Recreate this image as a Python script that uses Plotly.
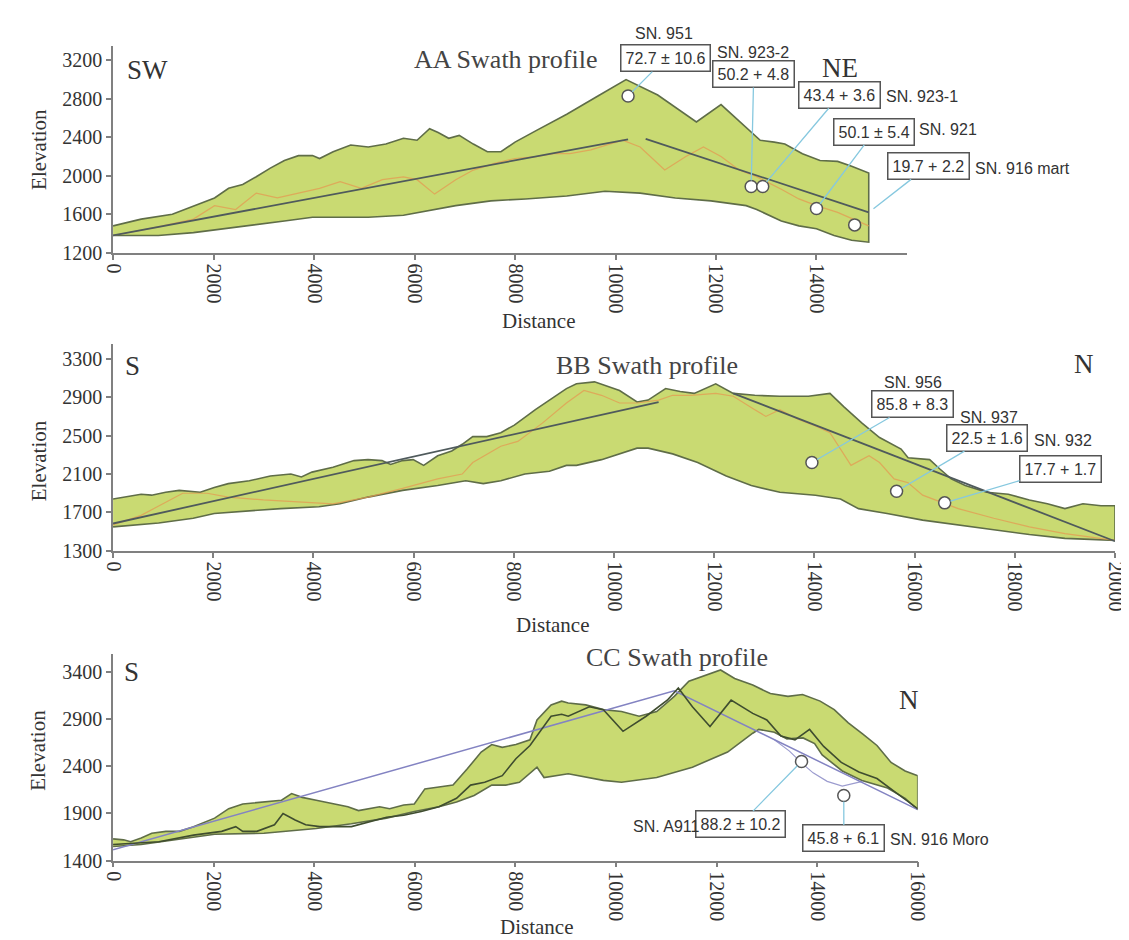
import plotly.graph_objects as go

W, H = 1129, 940

# ---------------- Panel AA ----------------
A_up_x = [0, 560, 1180, 1530, 1740, 2020, 2300, 2580, 2850, 3130, 3410, 3690, 3970, 4110, 4380, 4730, 5080, 5430,
          5780, 6050, 6300, 6470, 6680, 6890, 7170, 7450, 7720, 8000, 8420, 9030, 9650, 10210, 10840, 11190, 11610,
          12100, 12460, 12880, 13160, 13370, 13720, 14070, 14420, 14700, 15040]
A_up_y = [1480, 1550, 1600, 1670, 1720, 1770, 1870, 1910, 1990, 2080, 2160, 2210, 2210, 2180, 2250, 2320, 2300, 2330,
          2390, 2370, 2490, 2450, 2390, 2420, 2330, 2250, 2250, 2350, 2470, 2640, 2830, 3000, 2840, 2710, 2560,
          2740, 2570, 2370, 2350, 2330, 2230, 2160, 2150, 2100, 2030]
A_lo_x = [0, 900, 1600, 2650, 3410, 3970, 5080, 5780, 6120, 6820, 7520, 8210, 9030, 9790, 10490, 11190, 11900,
          12600, 12810, 13300, 13650, 14000, 14350, 14700, 15040]
A_lo_y = [1380, 1380, 1410, 1480, 1530, 1570, 1570, 1590, 1620, 1690, 1740, 1760, 1790, 1840, 1820, 1770, 1740,
          1690, 1650, 1530, 1480, 1450, 1380, 1330, 1310]
A_mean_x = [0, 900, 1600, 2020, 2440, 2850, 3270, 3690, 4110, 4520, 4940, 5360, 5780, 6050, 6400, 6820, 7170, 7590,
            8000, 8420, 8770, 9090, 9510, 10140, 10490, 10980, 11400, 11750, 12100, 12460, 12810, 13300, 13650,
            14000, 14420, 15040]
A_mean_y = [1380, 1470, 1550, 1690, 1650, 1820, 1770, 1820, 1870, 1940, 1870, 1960, 1990, 1960, 1810, 1960, 2060,
            2130, 2180, 2200, 2230, 2230, 2270, 2370, 2300, 2060, 2200, 2300, 2200, 2060, 1990, 1860, 1760, 1690,
            1620, 1480]
A_reg1_x = [0, 10250]
A_reg1_y = [1380, 2380]
A_reg2_x = [10600, 15040]
A_reg2_y = [2385, 1620]
A_pt_x = [10250, 12700, 12930, 14000, 14760]
A_pt_y = [2830, 1890, 1890, 1660, 1490]

# ---------------- Panel BB ----------------
B_up_x = [0, 210, 560, 770, 1050, 1320, 1740, 2020, 2300, 2720, 3140, 3550, 3760, 3970, 4390, 4810, 5090, 5370,
          5540, 5780, 5990, 6200, 6480, 6760, 6970, 7180, 7460, 7740, 8010, 8430, 8850, 9050, 9250, 9610, 10110,
          10460, 10680, 11030, 11320, 11600, 12030, 12380, 12810, 13310, 13880, 14310, 14590, 14950, 15300, 15730,
          15870, 16300, 16510, 16730, 17010, 17440, 17870, 18290, 18650, 19000, 19360, 19720, 20000]
B_up_y = [1840, 1860, 1890, 1880, 1910, 1930, 1910, 1960, 2000, 2030, 2080, 2100, 2070, 2120, 2170, 2240, 2250, 2240,
          2200, 2240, 2250, 2190, 2290, 2340, 2410, 2490, 2490, 2530, 2610, 2770, 2920, 2990, 3040, 3060, 2970,
          2850, 2870, 2990, 2960, 2940, 3040, 2940, 2920, 2910, 2910, 2940, 2800, 2630, 2480, 2360,
          2270, 2250, 2150, 2050, 1980, 1910, 1890, 1830, 1790, 1740, 1790, 1770, 1770]
B_lo_x = [0, 910, 1600, 2020, 2650, 3350, 4110, 4530, 5090, 5780, 6480, 7040, 7390, 7740, 8220, 8710, 9050, 9250,
          9750, 10460, 10680, 11170, 11670, 12240, 12740, 13310, 14020, 14520, 14880, 15450, 16160, 16870, 17580,
          18290, 19000, 20000]
B_lo_y = [1550, 1590, 1640, 1690, 1710, 1740, 1760, 1790, 1860, 1930, 1980, 2030, 2000, 2030, 2100, 2130, 2190, 2190,
          2250, 2370, 2370, 2310, 2220, 2080, 1980, 1910, 1880, 1840, 1740, 1690, 1620, 1570, 1520,
          1470, 1430, 1410]
B_mean_x = [0, 560, 1390, 1880, 2300, 3000, 3690, 4390, 5090, 5780, 6480, 6970, 7180, 7740, 8080, 8570, 9050, 9400,
            9750, 10110, 10460, 10890, 11170, 11530, 12030, 12380, 12810, 13030, 13310, 13670, 14020, 14310, 14730,
            15090, 15300, 15590, 15870, 16160, 16870, 17580, 18290, 19000, 20000]
B_mean_y = [1570, 1670, 1900, 1900, 1860, 1830, 1810, 1790, 1860, 1950, 2050, 2100, 2220, 2390, 2440, 2630, 2840,
            2970, 2920, 2840, 2840, 2870, 2920, 2920, 2940, 2910, 2770, 2700, 2770, 2670, 2600, 2530, 2190,
            2290, 2220, 2050, 2010, 1880, 1740, 1640, 1550, 1480, 1410]
B_reg1_x = [0, 10890]
B_reg1_y = [1585, 2850]
B_reg2_x = [12380, 20000]
B_reg2_y = [2940, 1400]
B_pt_x = [13950, 15640, 16600]
B_pt_y = [2220, 1920, 1800]

# ---------------- Panel CC ----------------
C_up_x = [0, 210, 350, 560, 770, 1050, 1320, 1600, 2020, 2300, 2580, 3000, 3350, 3550, 3760, 4040, 4390, 4670, 4880,
          5090, 5300, 5500, 5780, 5990, 6200, 6480, 6760, 7040, 7320, 7530, 7740, 8010, 8290, 8430, 8710, 8920,
          9050, 9400, 9750, 10110, 10460, 10810, 11160, 11450, 11730, 12080, 12360, 12720, 13070, 13420, 13710,
          14060, 14340, 14620, 14910, 15190, 15470, 15750, 16000]
C_up_y = [1630, 1620, 1600, 1640, 1690, 1710, 1710, 1760, 1850, 1950, 2000, 2020, 2040, 2110, 2070, 2040, 2000, 1970,
          1930, 1950, 1970, 1950, 1990, 2000, 2160, 2180, 2200, 2370, 2550, 2630, 2600, 2630, 2680, 2890, 3050,
          3090, 3070, 3050, 3000, 2980, 2930, 2980, 3140, 3300, 3350, 3420, 3330, 3260, 3170, 3140, 3160,
          3090, 3000, 2860, 2740, 2620, 2440, 2350, 2300]
C_lo_x = [0, 560, 1250, 2020, 3000, 4040, 4740, 5440, 5990, 6480, 6830, 7180, 7530, 7810, 8080, 8430, 8570, 8850,
          9050, 9750, 10110, 10810, 11520, 12220, 12720, 12840, 13150, 13400, 13720, 13950, 14100, 14500, 14890,
          15400, 15750, 16000]
C_lo_y = [1550, 1570, 1620, 1680, 1690, 1740, 1790, 1850, 1920, 1970, 2020, 2090, 2200, 2200, 2230, 2390, 2280, 2300,
          2320, 2250, 2230, 2280, 2390, 2550, 2750, 2790, 2760, 2690, 2700, 2640, 2520, 2350, 2250,
          2170, 2060, 1940]
C_mean_x = [0, 910, 1600, 2160, 2440, 2580, 2860, 3210, 3380, 3620, 3830, 4110, 4740, 5090, 5440, 5780, 6130, 6480,
            6830, 7110, 7390, 7740, 8010, 8290, 8570, 8710, 8920, 9050, 9470, 9750, 10140, 10600, 11020, 11240,
            11520, 11870, 12290, 12720, 13000, 13280, 13560, 13850, 14130, 14480, 14830, 15190, 15540, 16000]
C_mean_y = [1570, 1600, 1670, 1710, 1760, 1710, 1710, 1780, 1900, 1830, 1780, 1760, 1760, 1810, 1860, 1880, 1920,
            1970, 2060, 2200, 2230, 2300, 2480, 2620, 2820, 2930, 2950, 2930, 3030, 3000, 2770, 2930, 3100, 3230,
            3030, 2820, 3100, 2960, 2890, 2720, 2680, 2790, 2610, 2440, 2340, 2270, 2130, 1950]
C_reg_x = [0, 11160, 16000]
C_reg_y = [1515, 3200, 1940]
C_alt_x = [13150, 13450, 13700, 13920, 14200, 14500, 14900]
C_alt_y = [2680, 2560, 2430, 2330, 2240, 2190, 2240]
C_pt_x = [13690, 14530]
C_pt_y = [2450, 2090]

# ---------------- ticks / labels ----------------
A_xticks = [0, 2000, 4000, 6000, 8000, 10000, 12000, 14000]
A_yticks = [1200, 1600, 2000, 2400, 2800, 3200]
B_xticks = [0, 2000, 4000, 6000, 8000, 10000, 12000, 14000, 16000, 18000, 20000]
B_yticks = [1300, 1700, 2100, 2500, 2900, 3300]
C_xticks = [0, 2000, 4000, 6000, 8000, 10000, 12000, 14000, 16000]
C_yticks = [1400, 1900, 2400, 2900, 3400]

A_labels = ["72.7 ± 10.6", "50.2 + 4.8", "43.4 + 3.6", "50.1 ± 5.4", "19.7 + 2.2"]
A_samples = ["SN. 951", "SN. 923-2", "SN. 923-1", "SN. 921", "SN. 916 mart"]
B_labels = ["85.8 + 8.3", "22.5 ± 1.6", "17.7 + 1.7"]
B_samples = ["SN. 956", "SN. 937", "SN. 932"]
C_labels = ["88.2 ± 10.2", "45.8 + 6.1"]
C_samples = ["SN. A911", "SN. 916 Moro"]

# ---------------- layout geometry (pixels) ----------------
geom = {
    1: dict(xd=(96, 906.4), yd=(38, 247.7), xr=(0, 15800), yr=(1200, 3354)),
    2: dict(xd=(96, 1118.8), yd=(340, 549.3), xr=(0, 20000), yr=(1300, 3454)),
    3: dict(xd=(96, 917.4), yd=(653.3, 862.7), xr=(0, 16000), yr=(1400, 3593)),
}


def to_data(p, px, py):
    g = geom[p]
    x = g['xr'][0] + (px - g['xd'][0]) / (g['xd'][1] - g['xd'][0]) * (g['xr'][1] - g['xr'][0])
    y = g['yr'][0] + (g['yd'][1] - py) / (g['yd'][1] - g['yd'][0]) * (g['yr'][1] - g['yr'][0])
    return x, y


def pp(px, py):
    return px / W, 1 - py / H


FILL = "#c9da72"
EDGE = "#5f6d48"
MEAN = "#e59a52"
REG = "#4f5a5c"
SERIF = "Liberation Serif"
SANS = "Liberation Sans"
TXT = "#333333"
LEAD = "#86c8df"

fig = go.Figure()


def add_env(p, ux, uy, lx, ly):
    fig.add_trace(go.Scatter(x=ux + lx[::-1], y=uy + ly[::-1], fill="toself", fillcolor=FILL,
                             mode="lines", line=dict(color=EDGE, width=1.6),
                             xaxis=f"x{p if p > 1 else ''}", yaxis=f"y{p if p > 1 else ''}", showlegend=False))


def add_line(p, x, y, color, width, opacity=1.0):
    fig.add_trace(go.Scatter(x=x, y=y, mode="lines", line=dict(color=color, width=width), opacity=opacity,
                             xaxis=f"x{p if p > 1 else ''}", yaxis=f"y{p if p > 1 else ''}", showlegend=False))


def add_pts(p, x, y):
    fig.add_trace(go.Scatter(x=x, y=y, mode="markers",
                             marker=dict(size=12, color="white", line=dict(color="#555555", width=1.5)),
                             xaxis=f"x{p if p > 1 else ''}", yaxis=f"y{p if p > 1 else ''}", showlegend=False,
                             cliponaxis=False))


# Panel A
add_env(1, A_up_x, A_up_y, A_lo_x, A_lo_y)
add_line(1, A_mean_x, A_mean_y, MEAN, 1.2, 0.75)
add_line(1, A_reg1_x, A_reg1_y, REG, 1.8)
add_line(1, A_reg2_x, A_reg2_y, REG, 1.8)
add_pts(1, A_pt_x, A_pt_y)
# Panel B
add_env(2, B_up_x, B_up_y, B_lo_x, B_lo_y)
add_line(2, B_mean_x, B_mean_y, MEAN, 1.2, 0.75)
add_line(2, B_reg1_x, B_reg1_y, REG, 1.8)
add_line(2, B_reg2_x, B_reg2_y, REG, 1.8)
add_pts(2, B_pt_x, B_pt_y)
# Panel C
add_env(3, C_up_x, C_up_y, C_lo_x, C_lo_y)
add_line(3, C_alt_x, C_alt_y, "#9c9ccf", 1.2)
add_line(3, C_reg_x, C_reg_y, "#8383c2", 1.5)
add_line(3, C_mean_x, C_mean_y, "#3f4d2f", 1.6)
add_pts(3, C_pt_x, C_pt_y)

axis_common = dict(showline=True, linecolor="#808080", linewidth=1.5, ticks="outside", ticklen=5,
                   tickcolor="#808080", tickwidth=1.5, showgrid=False, zeroline=False,
                   tickfont=dict(family=SERIF, size=20, color=TXT))

layout = dict(width=W, height=H, margin=dict(l=0, r=0, t=0, b=0), plot_bgcolor="white",
              paper_bgcolor="white", showlegend=False)
xt = {1: A_xticks, 2: B_xticks, 3: C_xticks}
yt = {1: A_yticks, 2: B_yticks, 3: C_yticks}
for p, g in geom.items():
    s = "" if p == 1 else str(p)
    layout[f"xaxis{s}"] = dict(axis_common, domain=[g['xd'][0] / W, g['xd'][1] / W], range=list(g['xr']),
                               tickvals=xt[p], ticktext=[str(v) for v in xt[p]], tickangle=90,
                               anchor=f"y{s}")
    layout[f"yaxis{s}"] = dict(axis_common, domain=[1 - g['yd'][1] / H, 1 - g['yd'][0] / H],
                               range=list(g['yr']), tickvals=yt[p], ticktext=[str(v) for v in yt[p]],
                               anchor=f"x{s}")
fig.update_layout(**layout)

ann = []


def text_px(t, px, py, size, family=SERIF, xanchor="center", color=TXT, angle=0):
    x, y = pp(px, py)
    ann.append(dict(text=t, x=x, y=y, xref="paper", yref="paper", showarrow=False, xanchor=xanchor,
                    yanchor="middle", textangle=angle, font=dict(family=family, size=size, color=color)))


def box(p, t, hx, hy, bx, by):
    tx, ty = to_data(p, bx, by)
    s = "" if p == 1 else str(p)
    ann.append(dict(text=t, x=hx, y=hy, xref=f"x{s}", yref=f"y{s}", ax=tx, ay=ty, axref=f"x{s}",
                    ayref=f"y{s}", showarrow=True, arrowhead=0, arrowwidth=1.3, arrowcolor=LEAD, standoff=6,
                    bordercolor="#555555", borderwidth=1.5, borderpad=4, bgcolor="white",
                    font=dict(family=SANS, size=16, color=TXT)))


# direction letters and titles
text_px("SW", 131, 63, 27)
text_px("NE", 838, 61, 27)
text_px("AA Swath profile", 497, 52, 26, color="#444444")
text_px("S", 116, 362, 27)
text_px("N", 1087, 360, 27)
text_px("BB Swath profile", 641, 362, 26, color="#444444")
text_px("S", 115, 672, 27)
text_px("N", 909, 700, 27)
text_px("CC Swath profile", 672, 657, 26, color="#444444")

# axis titles
text_px("Elevation", 21, 143, 21, angle=-90)
text_px("Elevation", 20, 458, 21, angle=-90)
text_px("Elevation", 20, 751, 21, angle=-90)
text_px("Distance", 530, 317, 21)
text_px("Distance", 545, 624, 21)
text_px("Distance", 528, 930, 21)

# Panel A boxes
box(1, A_labels[0], A_pt_x[0], A_pt_y[0], 660, 51)
box(1, A_labels[1], A_pt_x[1], A_pt_y[1], 750, 67)
box(1, A_labels[2], A_pt_x[2], A_pt_y[2], 838, 88)
box(1, A_labels[3], A_pt_x[3], A_pt_y[3], 873, 125)
box(1, A_labels[4], A_reg2_x[-1], A_reg2_y[-1], 928, 160)
text_px(A_samples[0], 658, 26, 16, SANS)
text_px(A_samples[1], 749, 45, 16, SANS)
text_px(A_samples[2], 883, 90, 16, SANS, "left")
text_px(A_samples[3], 917, 123, 16, SANS, "left")
text_px(A_samples[4], 974, 162, 16, SANS, "left")

# Panel B boxes
box(2, B_labels[0], B_pt_x[0], B_pt_y[0], 912, 401)
box(2, B_labels[1], B_pt_x[1], B_pt_y[1], 988, 435)
box(2, B_labels[2], B_pt_x[2], B_pt_y[2], 1063, 466)
text_px(B_samples[0], 913, 379, 16, SANS)
text_px(B_samples[1], 990, 414, 16, SANS)
text_px(B_samples[2], 1066, 438, 16, SANS)

# Panel C boxes
box(3, C_labels[0], C_pt_x[0], C_pt_y[0], 736, 826)
box(3, C_labels[1], C_pt_x[1], C_pt_y[1], 842, 840)
text_px(C_samples[0], 697, 828, 16, SANS, "right")
text_px(C_samples[1], 887, 841, 16, SANS, "left")

fig.update_layout(annotations=ann)
fig.write_html("out.html", config={"displayModeBar": False})
